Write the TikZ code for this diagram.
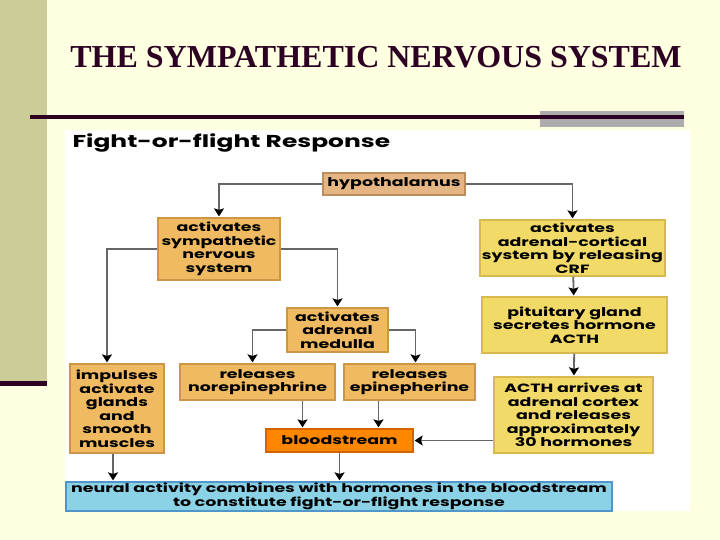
\documentclass[tikz,border=0pt]{standalone}
\usepackage{fontspec}
\setmainfont{Liberation Serif}
\newfontfamily\diafont[FakeStretch=1.45]{Poppins}
\usepackage{tikz}
\usetikzlibrary{positioning, arrows.meta, calc}
\definecolor{cream}{RGB}{255,255,226}
\definecolor{khaki}{RGB}{204,204,153}
\definecolor{plum}{RGB}{45,0,35}
\definecolor{tanfill}{RGB}{229,182,132}
\definecolor{tanline}{RGB}{190,140,90}
\definecolor{ambfill}{RGB}{240,186,98}
\definecolor{ambline}{RGB}{205,150,70}
\definecolor{yelfill}{RGB}{242,218,105}
\definecolor{yelline}{RGB}{215,185,80}
\definecolor{orgfill}{RGB}{255,135,0}
\definecolor{orgline}{RGB}{210,100,0}
\definecolor{bluefill}{RGB}{140,210,230}
\definecolor{blueline}{RGB}{80,150,200}

\begin{document}
\begin{tikzpicture}[
    x=1pt, y=-1pt,
    every node/.style={font=\diafont\bfseries\fontsize{12}{13.5}\selectfont},
    box/.style={draw, line width=1.2pt, inner sep=0pt, align=center},
    amber/.style={box, fill=ambfill, draw=ambline},
    yellowbox/.style={box, fill=yelfill, draw=yelline},
    link/.style={draw=gray!80!black, line width=1.8pt,
        -{Stealth[inset=1.5pt, width=10pt, length=8pt, color=black]}, shorten >=1pt},
]
\useasboundingbox (0,0) rectangle (720,540);

% ── Slide background ──
\fill[cream] (0,0) rectangle (720,540);
\fill[khaki] (0,0) rectangle (47,381);
\fill[plum] (0,381) rectangle (47,386);
\fill[gray!65] (540,111) rectangle (684,127);
\fill[plum] (30,115.5) rectangle (684,119);
\node[font=\bfseries\fontsize{32}{35}\selectfont, text=plum] (title) at (376,57) {THE SYMPATHETIC NERVOUS SYSTEM};

% ── Figure panel ──
\fill[white] (65,130) rectangle (690,511);
\node[anchor=west, font=\diafont\bfseries\fontsize{17.2}{20}\selectfont] (heading) at (69,143) {Fight-or-flight Response};

% ── Top ──
\node[box, fill=tanfill, draw=tanline, minimum width=142pt, minimum height=22pt]
    (hypo) at (394,184) {hypothalamus};

% ── Nervous branch ──
\node[amber, minimum width=122pt, minimum height=62pt]
    (sns) at (219,249) {activates\\sympathetic\\nervous\\system};
\node[amber, minimum width=101pt, minimum height=44pt]
    (med) at (337.5,330) {activates\\adrenal\\medulla};
\node[amber, minimum width=94pt, minimum height=89pt]
    (imp) at (117,408.5) {impulses\\activate\\glands\\and\\smooth\\muscles};
\node[amber, minimum width=155pt, minimum height=36pt]
    (nor) at (257.5,382) {releases\\norepinephrine};
\node[amber, minimum width=131pt, minimum height=36pt]
    (epi) at (409.5,382) {releases\\epinepherine};

% ── Hormonal branch ──
\node[yellowbox, minimum width=185pt, minimum height=56pt]
    (acs) at (572.5,248) {activates\\adrenal-cortical\\system by releasing\\CRF};
\node[yellowbox, minimum width=185pt, minimum height=56pt]
    (pit) at (574.5,325) {pituitary gland\\secretes hormone\\ACTH};
\node[yellowbox, minimum width=159pt, minimum height=76pt]
    (arr) at (573.5,415) {ACTH arrives at\\adrenal cortex\\and releases\\approximately\\30 hormones};

% ── Merge ──
\node[box, fill=orgfill, draw=orgline, minimum width=147pt, minimum height=23pt]
    (blood) at (339.5,440.5) {bloodstream};
\node[box, fill=bluefill, draw=blueline, minimum width=546pt, minimum height=29pt]
    (result) at (339,496.5) {neural activity combines with hormones in the bloodstream\\to constitute fight-or-flight response};

% ── Arrows ──
\draw[link] (hypo.west) -| (sns.north);
\draw[link] (hypo.east) -| (acs.north);
\draw[link] (sns.east) -| (med.north);
\draw[link] (sns.west) -| ([xshift=-10pt]imp.north);
\draw[link] (med.west) -| ([xshift=-5pt]nor.north);
\draw[link] (med.east) -| ([xshift=6pt]epi.north);
\draw[link] (acs) -- (pit);
\draw[link] (pit) -- (arr);
\draw[link] ([xshift=45pt]nor.south) -- ([xshift=45pt]nor.south |- blood.north);
\draw[link] ([xshift=-31pt]epi.south) -- ([xshift=-31pt]epi.south |- blood.north);
\draw[link] (arr.west |- blood.east) -- (blood.east);
\draw[link] (blood) -- (blood.south |- result.north);
\draw[link] ([xshift=-4pt]imp.south) -- ([xshift=-4pt]imp.south |- result.north);

\end{tikzpicture}
\end{document}
